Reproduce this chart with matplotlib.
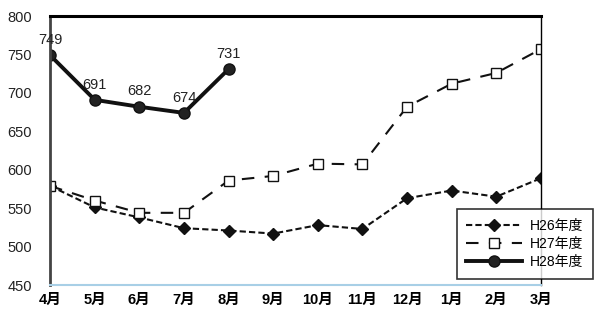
import matplotlib.pyplot as plt

plt.rcParams['font.family'] = ['Liberation Sans', 'Noto Sans CJK JP', 'DejaVu Sans']

months = ['4月', '5月', '6月', '7月', '8月', '9月', '10月', '11月', '12月', '1月', '2月', '3月']
h26 = [579, 551, 538, 524, 521, 517, 528, 523, 563, 573, 565, 589]
h27 = [579, 560, 544, 544, 586, 592, 608, 607, 682, 712, 726, 757]
h28 = [749, 691, 682, 674, 731]

fig = plt.figure(figsize=(5.97, 3.15), dpi=100)
ax = fig.add_axes([0.084, 0.095, 0.822, 0.854])

x = list(range(len(months)))
ax.plot(x, h26, color='#111111', ls=(0, (3, 1.5)), lw=1.5, marker='D', ms=6,
        mfc='#111111', mec='#111111', label='H26年度')
ax.plot(x, h27, color='#111111', ls=(0, (6, 5)), lw=1.5, marker='s', ms=7,
        mfc='white', mec='#111111', mew=1, label='H27年度')
ax.plot(x[:len(h28)], h28, color='#111111', ls='-', lw=2.8, marker='o', ms=8,
        mfc='#222222', mec='#111111', label='H28年度')

for i, v in enumerate(h28):
    ax.annotate(str(v), (x[i], v), xytext=(0, 6), textcoords='offset points',
                ha='center', va='bottom', fontsize=10.5, color='#222222')

ax.set_xlim(0, len(months) - 1)
ax.set_ylim(450, 800)
ax.set_xticks(x)
ax.set_xticklabels(months, fontsize=10.5, fontweight='bold')
ax.set_yticks(range(450, 801, 50))
ax.tick_params(axis='y', labelsize=10.5, length=0, pad=13, labelcolor='#222222')
ax.tick_params(axis='x', length=0, pad=6)

ax.spines['top'].set_linewidth(2.2)
ax.spines['top'].set_color('black')
ax.spines['right'].set_linewidth(1)
ax.spines['left'].set_linewidth(2)
ax.spines['left'].set_color('#444444')
ax.spines['bottom'].set_color('#a8cfe6')
ax.spines['bottom'].set_linewidth(1.5)

leg = fig.legend(loc='lower left', bbox_to_anchor=(0.765, 0.115), fontsize=10,
                 frameon=True, fancybox=False, handlelength=4, handletextpad=0.6,
                 borderpad=0.7, borderaxespad=0, labelspacing=0.3)
leg.get_frame().set_edgecolor('black')
leg.get_frame().set_linewidth(1.2)

plt.savefig('out.png', dpi=100)
